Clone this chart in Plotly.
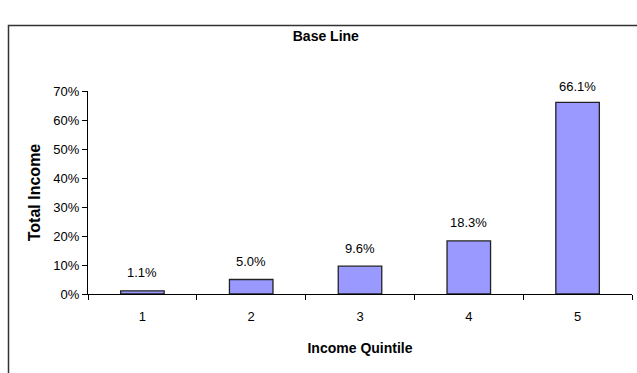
import plotly.graph_objects as go

quintiles = ["1", "2", "3", "4", "5"]
income_share = [1.1, 5.0, 9.6, 18.3, 66.1]
share_labels = ["1.1%", "5.0%", "9.6%", "18.3%", "66.1%"]
y_ticks = [0, 10, 20, 30, 40, 50, 60, 70]
y_tick_labels = ["0%", "10%", "20%", "30%", "40%", "50%", "60%", "70%"]

font_family = "Liberation Sans, Arial, sans-serif"

fig = go.Figure(
    go.Bar(
        x=quintiles,
        y=income_share,
        marker=dict(color="#9999FF", line=dict(color="#222222", width=1.3)),
        width=0.4,
    )
)

# value labels sitting above each bar (category axis positions are indices)
for idx, (v, lbl) in enumerate(zip(income_share, share_labels)):
    fig.add_annotation(
        x=idx,
        y=v,
        text=lbl,
        showarrow=False,
        xanchor="center",
        yanchor="middle",
        yshift=18 if v < 60 else 16,
        font=dict(family=font_family, size=13, color="#000000"),
    )

fig.update_layout(
    width=637,
    height=373,
    margin=dict(l=88, r=5, t=91, b=79),
    paper_bgcolor="#FFFFFF",
    plot_bgcolor="#FFFFFF",
    showlegend=False,
    font=dict(family=font_family, size=13, color="#000000"),
    title=dict(
        text="<b>Base Line</b>",
        x=0.5115,
        xanchor="center",
        y=0.904,
        yanchor="middle",
        font=dict(family=font_family, size=14, color="#000000"),
    ),
    xaxis=dict(
        type="category",
        range=[-0.5, 4.5],
        showline=True,
        linecolor="#000000",
        linewidth=1,
        ticks="outside",
        ticklen=5,
        tickcolor="#000000",
        tickson="boundaries",
        ticklabelstandoff=10,
        showgrid=False,
        zeroline=False,
        tickfont=dict(family=font_family, size=13),
        title=dict(
            text="<b>Income Quintile</b>",
            font=dict(family=font_family, size=14),
            standoff=20,
        ),
    ),
    yaxis=dict(
        range=[0, 70],
        tickvals=y_ticks,
        ticktext=y_tick_labels,
        showline=True,
        linecolor="#000000",
        linewidth=1,
        ticks="outside",
        ticklen=5,
        tickcolor="#000000",
        showgrid=False,
        zeroline=False,
        tickfont=dict(family=font_family, size=13),
        title=dict(
            text="<b>Total Income</b>",
            font=dict(family=font_family, size=16),
            standoff=8,
        ),
    ),
    shapes=[
        # chart frame, running off the right and bottom edges
        dict(
            type="rect",
            xref="paper",
            yref="paper",
            x0=(8.5 - 88) / 544,
            x1=1.1,
            y0=-0.6,
            y1=(282 - 13.5) / 203,
            line=dict(color="#333333", width=1.5),
            fillcolor="rgba(0,0,0,0)",
            layer="below",
        )
    ],
)

fig.write_html("out.html")
